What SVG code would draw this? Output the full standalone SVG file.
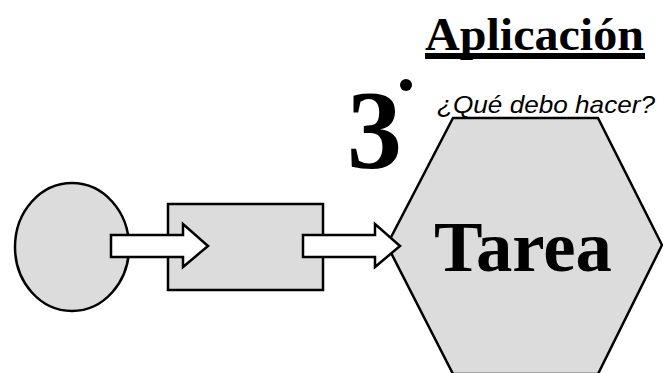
<svg xmlns="http://www.w3.org/2000/svg" width="663" height="373" viewBox="0 0 663 373">
<style>
.shape{fill:#dcdcdc;stroke:#000;stroke-width:2.5}
.arrow{fill:#fff;stroke:#000;stroke-width:2.5;stroke-linejoin:miter}
.serif{font-family:"Liberation Serif","Times New Roman",serif;font-weight:bold;fill:#000}
</style>
<rect width="663" height="373" fill="#fff"/>
<g id="circle"><ellipse class="shape" cx="72" cy="247" rx="57" ry="64"/></g>
<g id="box"><rect class="shape" x="168" y="204" width="155" height="86"/></g>
<g id="hexagon"><polygon class="shape" points="453,118 598,118 662,245 598,374 453,374 387,245"/>
<text class="serif" x="434" y="271" font-size="72" textLength="178" lengthAdjust="spacingAndGlyphs">Tarea</text></g>
<g id="connectors">
<polygon class="arrow" points="111,235 183,235 183,224 208,246 183,267 183,257 111,257"/>
<polygon class="arrow" points="303,235 375,235 375,224 400,246 375,267 375,257 303,257"/>
</g>
<g id="title">
<text class="serif" x="425" y="50" font-size="46" textLength="219" lengthAdjust="spacingAndGlyphs">Aplicación</text>
<rect x="425" y="53" width="220" height="6" fill="#000"/>
</g>
<g id="step">
<text class="serif" x="347" y="168" font-size="112" textLength="55" lengthAdjust="spacingAndGlyphs">3</text>
<circle cx="406" cy="85" r="6" fill="#000"/>
<text x="437" y="113" font-family="'Liberation Sans',Arial,sans-serif" font-style="italic" font-size="24" textLength="218" lengthAdjust="spacingAndGlyphs" fill="#000">¿Qué debo hacer?</text>
</g>
</svg>
